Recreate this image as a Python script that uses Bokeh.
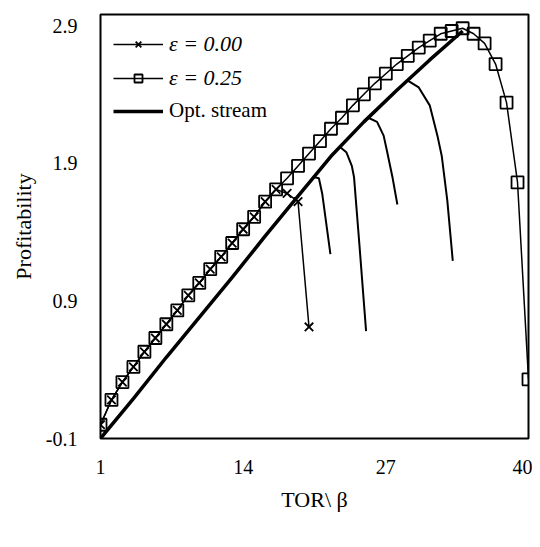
from bokeh.plotting import figure
from bokeh.models import Legend, LegendItem, Range1d, FixedTicker
from bokeh.embed import file_html
from bokeh.resources import INLINE

# ---- data ----
x_eps25 = list(range(1, 41))
y_eps25 = [0.00, 0.18, 0.31, 0.42, 0.53, 0.63, 0.73, 0.83, 0.94, 1.03,
           1.13, 1.22, 1.32, 1.42, 1.51, 1.62, 1.71, 1.79, 1.88, 1.97,
           2.06, 2.15, 2.23, 2.32, 2.40, 2.48, 2.55, 2.62, 2.68, 2.74,
           2.79, 2.84, 2.86, 2.88, 2.84, 2.77, 2.62, 2.34, 1.76, 0.33]

x_eps00 = list(range(1, 21))
y_eps00 = [0.00, 0.18, 0.31, 0.42, 0.53, 0.63, 0.73, 0.83, 0.94, 1.03,
           1.13, 1.22, 1.32, 1.42, 1.51, 1.62, 1.71, 1.68, 1.62, 0.71]

x_opt = [1, 4, 7, 10, 13, 16, 19, 22, 25, 28, 31, 34]
y_opt = [-0.10, 0.19, 0.49, 0.78, 1.07, 1.37, 1.66, 1.95, 2.20, 2.43, 2.65, 2.86]

branch1_x = [20.4, 20.9, 21.2, 21.95]
branch1_y = [1.80, 1.79, 1.68, 1.24]
branch2_x = [22.8, 23.4, 23.9, 24.1, 24.6, 25.2]
branch2_y = [2.02, 1.98, 1.88, 1.80, 1.30, 0.68]
branch3_x = [25.4, 26.2, 26.8, 27.1, 27.6, 28.05]
branch3_y = [2.23, 2.20, 2.10, 1.99, 1.80, 1.60]
branch4_x = [29.0, 30.0, 31.0, 31.7, 32.1, 32.6, 33.1]
branch4_y = [2.50, 2.45, 2.32, 2.10, 1.95, 1.63, 1.19]

x_ticks = [1, 14, 27, 40]
y_ticks = [-0.1, 0.9, 1.9, 2.9]

FONT = "Liberation Serif"

p = figure(width=532, height=539, output_backend="svg", toolbar_location=None,
           x_range=Range1d(1, 40), y_range=Range1d(-0.1, 2.98),
           min_border_left=100, min_border_right=4, min_border_top=14,
           min_border_bottom=101)
p.grid.visible = False
p.outline_line_color = "black"
p.outline_line_width = 2
p.background_fill_color = "white"
p.border_fill_color = "white"

for ax in (p.xaxis[0], p.yaxis[0]):
    ax.axis_line_color = None
    ax.major_tick_line_color = None
    ax.minor_tick_line_color = None
    ax.major_label_text_font = FONT
    ax.major_label_text_font_size = "20px"
    ax.major_label_text_color = "black"
    ax.axis_label_text_font = FONT
    ax.axis_label_text_font_size = "22px"
    ax.axis_label_text_font_style = "normal"
    ax.axis_label_text_color = "black"

p.xaxis.ticker = FixedTicker(ticks=x_ticks)
p.yaxis.ticker = FixedTicker(ticks=y_ticks)
p.xaxis.major_label_overrides = {t: str(t) for t in x_ticks}
p.yaxis.major_label_overrides = {t: f"{t:.1f}" for t in y_ticks}
p.xaxis.major_label_standoff = 15
p.yaxis.major_label_standoff = 17
p.xaxis.axis_label = "TOR\\ β"
p.yaxis.axis_label = "Profitability"
p.xaxis.axis_label_standoff = 10
p.yaxis.axis_label_standoff = 7

# thin branch curves
for bx, by in ((branch1_x, branch1_y), (branch2_x, branch2_y),
               (branch3_x, branch3_y), (branch4_x, branch4_y)):
    p.line(bx, by, line_color="black", line_width=2)

r_opt = p.line(x_opt, y_opt, line_color="black", line_width=3.5)

r25l = p.line(x_eps25, y_eps25, line_color="black", line_width=1.5)
r25m = p.scatter(x_eps25, y_eps25, marker="square", size=12,
                 line_color="black", line_width=1.8, fill_alpha=0)

r00l = p.line(x_eps00, y_eps00, line_color="black", line_width=1.5)
r00m = p.scatter(x_eps00, y_eps00, marker="x", size=12,
                 line_color="black", line_width=1.8)

common = dict(border_line_color=None, background_fill_alpha=0,
              padding=0, margin=0, spacing=0, glyph_width=50, glyph_height=20,
              label_height=20, label_standoff=6,
              label_text_font=FONT, label_text_color="black")

leg1 = Legend(items=[LegendItem(label="ε = 0.00", renderers=[r00l, r00m])],
              location=(13, 381), label_text_font_style="italic",
              label_text_font_size="22px", **common)
leg2 = Legend(items=[LegendItem(label="ε = 0.25", renderers=[r25l, r25m])],
              location=(13, 347), label_text_font_style="italic",
              label_text_font_size="22px", **common)
leg3 = Legend(items=[LegendItem(label="Opt. stream", renderers=[r_opt])],
              location=(13, 315), label_text_font_style="normal",
              label_text_font_size="21px", **common)
for lg in (leg1, leg2, leg3):
    p.add_layout(lg, "center")

open("out.html", "w").write(file_html(p, INLINE))
